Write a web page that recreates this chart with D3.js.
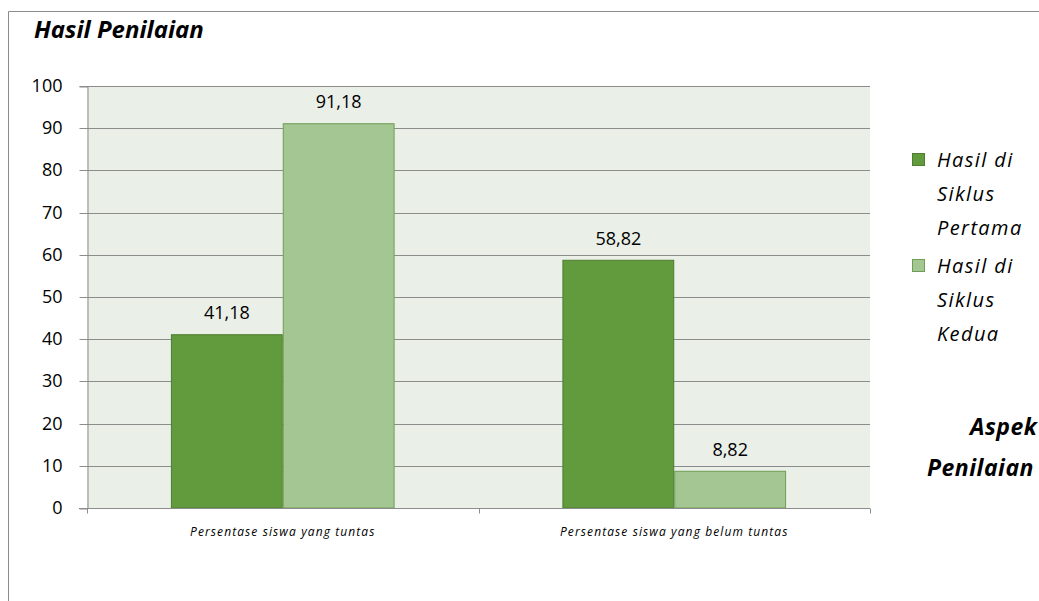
<!DOCTYPE html>
<html>
<head>
<meta charset="utf-8">
<script src="https://cdn.jsdelivr.net/npm/d3@7"></script>
<style>
  body { margin: 0; background: #fff; }
  text { font-family: "Open Sans", "Noto Sans", sans-serif; }
</style>
</head>
<body>
<div id="svg"></div>
<script>
const categories = ["Persentase siswa yang tuntas", "Persentase siswa yang belum tuntas"];
const seriesNames = ["Hasil di Siklus Pertama", "Hasil di Siklus Kedua"];
const siklusPertama = [41.18, 58.82];
const siklusKedua = [91.18, 8.82];
const yTicks = [0, 10, 20, 30, 40, 50, 60, 70, 80, 90, 100];

const width = 1039,
      height = 601;

const colors = ["#629a3e", "#a3c692"];
const strokes = ["#4e7e30", "#6e9e52"];

const svg = d3.select("#svg")
  .append("svg")
    .attr("width", width)
    .attr("height", height);

// outer chart border
svg.append("path")
    .attr("d", `M8.5,${height} V11.5 H${width}`)
    .attr("fill", "none")
    .attr("stroke", "#8c8c8c");

svg.append("text")
    .attr("x", 34)
    .attr("y", 38)
    .style("font-size", "24px")
    .style("font-weight", "bold")
    .style("font-style", "italic")
    .style("letter-spacing", "0px")
    .text("Hasil Penilaian");

const plotLeft = 87, plotRight = 870, plotTop = 86, plotBottom = 508;

const x0 = d3.scaleBand()
    .domain(categories)
    .range([plotLeft, plotRight])
    .paddingInner(0.4286)
    .paddingOuter(0.2143);

const x1 = d3.scaleBand()
    .domain([0, 1])
    .range([0, x0.bandwidth()]);

const y = d3.scaleLinear()
    .domain([0, 100])
    .range([plotBottom, plotTop]);

// plot background
svg.append("rect")
    .attr("x", plotLeft)
    .attr("y", plotTop)
    .attr("width", plotRight - plotLeft)
    .attr("height", plotBottom - plotTop)
    .attr("fill", "#eaefe8");

// grid lines
svg.append("g")
  .selectAll("line")
  .data(yTicks.filter(d => d > 0))
  .enter()
  .append("line")
    .attr("x1", plotLeft)
    .attr("x2", plotRight)
    .attr("y1", d => Math.round(y(d)) + 0.5)
    .attr("y2", d => Math.round(y(d)) + 0.5)
    .attr("stroke", "#8c8c8c");

// y axis
const yAxis = svg.append("g")
    .attr("transform", `translate(${plotLeft + 0.5},0.5)`)
    .call(d3.axisLeft(y).tickValues(yTicks).tickSize(8).tickPadding(17));
yAxis.select(".domain").attr("stroke", "#8c8c8c");
yAxis.selectAll("line").attr("stroke", "#8c8c8c");
yAxis.selectAll("text")
    .style("font-size", "18px")
    .attr("fill", "#000");
yAxis.selectAll(".tick").attr("transform", d => `translate(0,${Math.round(y(d))})`);

// bars
const series = [siklusPertama, siklusKedua];
const groups = svg.append("g")
  .selectAll("g")
  .data(categories)
  .enter()
  .append("g")
    .attr("transform", d => `translate(${x0(d)},0)`);

groups.selectAll("rect")
  .data((d, i) => series.map((s, k) => ({ k: k, v: s[i] })))
  .enter()
  .append("rect")
    .attr("x", d => x1(d.k) + 0.5)
    .attr("y", d => y(d.v) + 0.5)
    .attr("width", x1.bandwidth() - 1)
    .attr("height", d => y(0) - y(d.v) - 0.5)
    .attr("fill", d => colors[d.k])
    .attr("stroke", d => strokes[d.k]);

groups.selectAll("text")
  .data((d, i) => series.map((s, k) => ({ k: k, v: s[i] })))
  .enter()
  .append("text")
    .attr("x", d => x1(d.k) + x1.bandwidth() / 2)
    .attr("y", d => y(d.v) - 15)
    .attr("text-anchor", "middle")
    .style("font-size", "18px")
    .text(d => d3.format(".2f")(d.v).replace(".", ","));

// x axis
const xAxis = svg.append("g")
    .attr("transform", `translate(0,${plotBottom + 0.5})`);
xAxis.append("line")
    .attr("x1", plotLeft - 8)
    .attr("x2", plotRight)
    .attr("stroke", "#8c8c8c");
xAxis.selectAll(".xt")
  .data([plotLeft, (plotLeft + plotRight) / 2, plotRight])
  .enter()
  .append("line")
    .attr("x1", d => Math.round(d) + 0.5)
    .attr("x2", d => Math.round(d) + 0.5)
    .attr("y1", 0)
    .attr("y2", 5)
    .attr("stroke", "#8c8c8c");
xAxis.selectAll("text")
  .data(categories)
  .enter()
  .append("text")
    .attr("x", d => x0(d) + x0.bandwidth() / 2)
    .attr("y", 27)
    .attr("text-anchor", "middle")
    .style("font-size", "12px")
    .style("font-style", "italic")
    .style("letter-spacing", "1.1px")
    .text(d => d);

// legend
const legend = svg.append("g")
  .selectAll("g")
  .data(seriesNames)
  .enter()
  .append("g")
    .attr("transform", (d, i) => `translate(912,${153 + i * 106})`);

legend.append("rect")
    .attr("x", 0.5)
    .attr("y", 0.5)
    .attr("width", 12)
    .attr("height", 12)
    .attr("fill", (d, i) => colors[i])
    .attr("stroke", (d, i) => strokes[i]);

legend.append("text")
    .style("font-size", "20px")
    .style("font-style", "italic")
    .style("letter-spacing", "1.4px")
  .selectAll("tspan")
  .data(d => ["Hasil di", "Siklus", d.split(" ").pop()])
  .enter()
  .append("tspan")
    .attr("x", 25)
    .attr("y", (d, i) => 14 + i * 34)
    .text(d => d);

// axis title
svg.append("text")
    .style("font-size", "23px")
    .style("font-weight", "bold")
    .style("font-style", "italic")
    .style("letter-spacing", "0.5px")
  .selectAll("tspan")
  .data(["Aspek", "Penilaian"])
  .enter()
  .append("tspan")
    .attr("x", (d, i) => i === 0 ? 970 : 927)
    .attr("y", (d, i) => 435 + i * 41)
    .text(d => d);
</script>
</body>
</html>
